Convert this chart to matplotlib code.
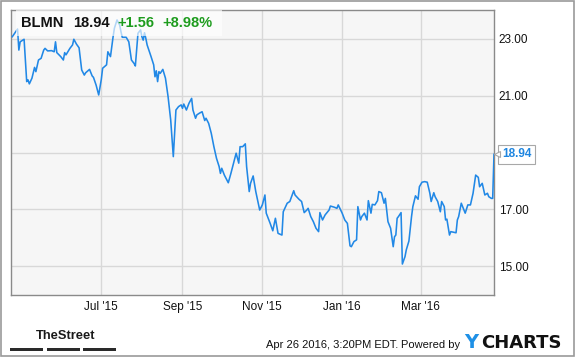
import numpy as np
import pandas as pd
import matplotlib
matplotlib.use("Agg")
from matplotlib import pyplot as plt
import matplotlib.dates as mdates
from matplotlib.patches import Rectangle
from matplotlib import transforms

plt.rcParams['font.family'] = ['Liberation Sans', 'DejaVu Sans']

# BLMN closing prices (days counted from 2015-07-01)
ticker = "BLMN"
last_price = "18.94"
change = "+1.56"
change_pct = "+8.98%"
stamp = "Apr 26 2016, 3:20PM EDT."

day = [-68, -64, -63, -62, -59, -57, -56, -55, -53, -51, -50, -48, -46, -44, -43, -41, -38, -36, -35, -34,
       -31, -29, -28, -27, -24, -22, -21, -19, -17, -15, -13, -12, -9, -7, -6, -4, -2, 0, 1, 4,
       5, 7, 9, 10, 12, 14, 15, 16, 19, 21, 23, 25, 26, 28, 30, 31, 32, 33, 34, 35,
       38, 40, 41, 42, 43, 44, 45, 47, 49, 51, 53, 55, 56, 57, 59, 61, 62, 63, 65, 67,
       69, 70, 72, 73, 75, 77, 79, 80, 82, 84, 86, 88, 90, 91, 92, 94, 97, 99, 101, 103,
       105, 106, 108, 110, 111, 113, 114, 116, 118, 121, 123, 125, 126, 129, 131, 133, 135, 138, 139, 142,
       144, 147, 148, 151, 153, 155, 157, 158, 160, 162, 164, 166, 167, 169, 171, 174, 175, 178, 180, 181,
       184, 186, 188, 190, 191, 193, 195, 196, 198, 199, 201, 203, 204, 206, 207, 209, 211, 212, 214, 216,
       217, 219, 221, 223, 224, 225, 226, 227, 229, 230, 232, 233, 235, 237, 238, 240, 242, 243, 245, 247,
       249, 251, 252, 254, 255, 257, 259, 260, 262, 263, 264, 266, 267, 269, 271, 272, 273, 275, 276, 278,
       280, 282, 284, 286, 288, 289, 291, 293, 295, 296, 298, 299, 300]
price = [23.08, 23.35, 22.61, 22.90, 22.99, 21.50, 21.56, 21.42, 21.62, 22.00, 21.85, 22.26, 22.32, 22.61, 22.67, 22.58, 22.59, 22.55, 22.90, 22.52,
         22.38, 22.26, 22.52, 22.44, 22.67, 22.79, 22.99, 22.82, 22.69, 21.91, 21.73, 21.81, 21.93, 21.70, 21.65, 21.38, 21.03, 21.58, 21.97, 22.09,
         22.55, 22.38, 23.08, 23.38, 23.67, 23.49, 23.26, 23.06, 23.06, 22.90, 22.26, 22.14, 22.05, 23.20, 23.32, 23.08, 22.96, 23.22, 23.02, 22.79,
         22.38, 22.09, 21.67, 21.88, 21.50, 21.85, 21.79, 21.93, 21.62, 20.97, 20.15, 18.86, 19.68, 20.50, 20.62, 20.68, 20.56, 20.71, 20.50, 20.74,
         20.91, 20.50, 20.21, 20.33, 20.39, 20.44, 20.13, 20.21, 20.03, 19.68, 19.21, 18.80, 18.51, 18.27, 18.45, 18.21, 17.94, 18.27, 18.63, 18.98,
         18.63, 19.21, 19.21, 19.31, 18.51, 17.63, 17.92, 18.18, 17.63, 16.98, 17.16, 17.51, 16.87, 16.51, 16.25, 16.69, 16.16, 16.10, 16.92, 17.22,
         17.28, 17.66, 17.51, 17.36, 17.28, 16.89, 16.98, 17.04, 16.75, 16.57, 16.34, 16.22, 16.89, 16.63, 16.81, 16.98, 17.12, 17.08, 17.04, 17.16,
         16.87, 16.63, 16.51, 15.72, 15.69, 15.87, 15.93, 17.10, 16.63, 16.75, 16.87, 16.63, 17.31, 16.87, 17.18, 17.16, 17.31, 17.63, 17.59, 17.22,
         17.39, 16.57, 16.34, 15.69, 16.04, 16.10, 16.69, 16.75, 16.89, 15.08, 15.34, 15.58, 15.89, 16.75, 17.10, 17.48, 17.36, 17.80, 17.96, 17.98,
         17.96, 17.57, 17.28, 17.59, 17.45, 17.28, 16.92, 17.28, 17.10, 16.63, 16.66, 16.10, 16.22, 16.20, 16.18, 16.63, 16.75, 17.22, 17.10, 16.87,
         17.16, 17.16, 17.57, 18.21, 18.13, 17.80, 17.92, 17.51, 17.57, 17.45, 17.39, 17.39, 18.94]
yticks = [15, 17, 19, 21, 23]
xticks = ["2015-07-01", "2015-09-01", "2015-11-01", "2016-01-01", "2016-03-01"]

dates = pd.Timestamp("2015-07-01") + pd.to_timedelta(day, unit="D")

W, H = 575, 358
fig = plt.figure(figsize=(W / 100, H / 100), dpi=100)
fig.patches.append(Rectangle((1 / W, 2 / H), 573 / W, 355 / H, transform=fig.transFigure,
                             fill=False, ec="#9a9a9a", lw=1.2))

ax = fig.add_axes([11 / W, 63 / H, 483 / W, 285 / H])
ax.set_facecolor("#f6f6f6")
ax.plot(dates, price, color="#2188e6", lw=1.15, zorder=3)

ax.set_xlim(pd.Timestamp("2015-04-23"), pd.Timestamp("2016-04-26"))
ax.set_ylim(13.99, 24.02)
ax.set_yticks(yticks)
# the 19.00 label sits under the last-price flag
ax.set_yticklabels(["" if v == 19 else "%.2f" % v for v in yticks])
ax.set_xticks(pd.to_datetime(xticks))
ax.xaxis.set_major_formatter(mdates.DateFormatter("%b '%y"))
ax.yaxis.tick_right()
ax.tick_params(axis="both", length=0, labelsize=8.5, colors="#111111")
ax.tick_params(axis="x", pad=4.5)
ax.tick_params(axis="y", pad=3.5)
ax.grid(True, color="#d8d8d8", lw=1.0, zorder=0)
for s in ax.spines.values():
    s.set_color("#8a8a8a")
    s.set_linewidth(1.0)

# header box with quote
ax.add_patch(Rectangle((16 / W, (H - 36) / H), 206 / W, 26 / H, transform=fig.transFigure,
                       fc="white", ec="none", alpha=0.65, zorder=4))
ty = 1 - 23 / H
fig.text(21.5 / W, ty, ticker, fontsize=10.5, fontweight="bold", color="#111111", va="center", zorder=5)
fig.text(73 / W, ty, last_price, fontsize=10.5, fontweight="bold", color="#111111", va="center", zorder=5)
fig.text(117 / W, ty, change, fontsize=10.5, fontweight="bold", color="#1e9c1e", va="center", zorder=5)
fig.text(162 / W, ty, change_pct, fontsize=10.5, fontweight="bold", color="#1e9c1e", va="center", zorder=5)

# last price flag on the right axis
ax.annotate(last_price, xy=(1, price[-1]), xycoords=("axes fraction", "data"),
            xytext=(8, 0), textcoords="offset pixels", ha="left", va="center",
            fontsize=8.5, fontweight="bold", color="#1f86e0", annotation_clip=False,
            bbox=dict(boxstyle="square,pad=0.32", fc="white", ec="#a8a8a8", lw=0.8), zorder=6)
flag = transforms.offset_copy(transforms.blended_transform_factory(ax.transAxes, ax.transData),
                              fig=fig, x=3.5, y=0, units="dots")
ax.plot([1], [price[-1]], marker="<", ms=4.5, mfc="white", mec="#a8a8a8", mew=0.8,
        transform=flag, clip_on=False, zorder=7)

# footer
fig.text(36 / W, 1 - 336 / H, "TheStreet", fontsize=9.3, fontweight="bold", color="#1a1a1a",
         va="center")
for x0 in [10, 47, 83]:
    fig.patches.append(Rectangle((x0 / W, 1 - 351 / H), 33 / W, 3 / H, transform=fig.transFigure,
                                 fc="#2a2a2a", ec="none"))
fig.text(398 / W, 1 - 348 / H, stamp, fontsize=8, color="#111111", ha="right", va="baseline")
fig.text(460 / W, 1 - 348 / H, "Powered by", fontsize=8, color="#111111", ha="right", va="baseline")
fig.text(464 / W, 1 - 348 / H, "Y", fontsize=14, fontweight="bold", color="#1e90e6", va="baseline",
         family="DejaVu Sans")
fig.text(481 / W, 1 - 348 / H, "CHARTS", fontsize=13, fontweight="bold", color="#111111", va="baseline",
         family="DejaVu Sans")

fig.savefig("out.png", dpi=100)
